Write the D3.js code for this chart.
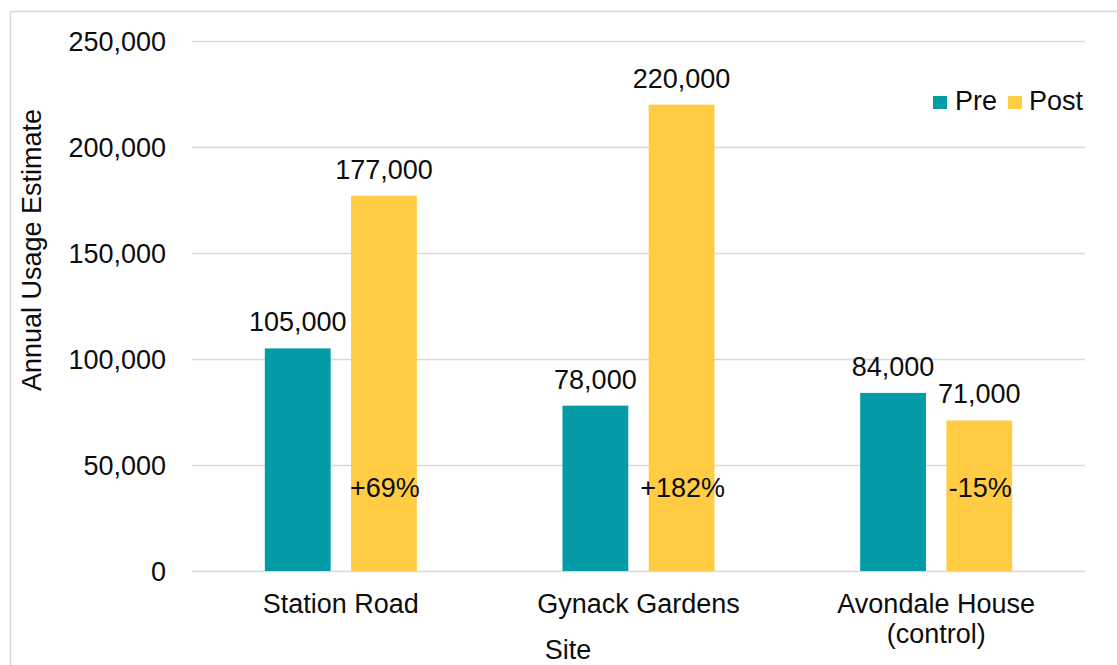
<!DOCTYPE html>
<html>
<head>
<meta charset="utf-8">
<script src="https://cdn.jsdelivr.net/npm/d3@7/dist/d3.min.js"></script>
<style>
  html, body { margin: 0; padding: 0; background: #fff; }
  svg { display: block; }
  text { font-family: "Liberation Sans", Arial, sans-serif; fill: #0d0d0d; }
</style>
</head>
<body>
<svg id="chart" width="1117" height="665"></svg>
<script>
// Annual usage estimates per site, before and after
const sites = ["Station Road", "Gynack Gardens", "Avondale House (control)"];
const siteLines = [["Station Road"], ["Gynack Gardens"], ["Avondale House", "(control)"]];
const series = ["Pre", "Post"];
const preValues = [105000, 78000, 84000];
const postValues = [177000, 220000, 71000];
const changeLabels = ["+69%", "+182%", "-15%"];
const yTicks = [0, 50000, 100000, 150000, 200000, 250000];
const colors = ["#039ba6", "#ffcc44"];

const W = 1117, H = 665;
const FS = "27px";
const margin = { left: 192, right: 32, top: 41, bottom: 94 };
const svg = d3.select("#chart");

// outer frame
svg.append("rect")
  .attr("x", 10.5).attr("y", 11.5)
  .attr("width", W + 10).attr("height", H + 10)
  .attr("fill", "none").attr("stroke", "#d9d9d9").attr("stroke-width", 1.5);

const x0 = d3.scaleBand().domain(sites)
  .range([margin.left, W - margin.right]).paddingInner(0).paddingOuter(0);
const inner = 152 / x0.bandwidth();
const x1 = d3.scaleBand().domain(series)
  .range([x0.bandwidth() * (1 - inner) / 2, x0.bandwidth() * (1 + inner) / 2])
  .paddingInner(18 / 152 * 2).paddingOuter(0);
const y = d3.scaleLinear().domain([0, 250000]).range([H - margin.bottom, margin.top]);

// gridlines and tick labels
const yAxis = d3.axisLeft(y).tickValues(yTicks)
  .tickSize(-(W - margin.left - margin.right))
  .tickFormat(d3.format(","));
const gy = svg.append("g").attr("transform", `translate(${margin.left},0)`).call(yAxis);
gy.select(".domain").remove();
gy.selectAll(".tick line").attr("stroke", "#d9d9d9").attr("stroke-width", 1.5);
gy.selectAll(".tick text")
  .attr("x", -26).attr("dy", "0.35em")
  .style("font-size", FS).style("font-family", "'Liberation Sans', Arial, sans-serif")
  .attr("fill", "#0d0d0d");

// bars
const data = sites.map((s, i) => ({ site: s, values: [
  { key: "Pre", value: preValues[i] },
  { key: "Post", value: postValues[i] }
]}));

const groups = svg.append("g").selectAll("g").data(data).join("g")
  .attr("transform", d => `translate(${x0(d.site)},0)`);

groups.selectAll("rect").data(d => d.values).join("rect")
  .attr("x", d => x1(d.key))
  .attr("y", d => y(d.value))
  .attr("width", x1.bandwidth())
  .attr("height", d => y(0) - y(d.value))
  .attr("fill", (d, i) => colors[i]);

// value labels above bars
groups.selectAll("text.val").data(d => d.values).join("text")
  .attr("class", "val")
  .attr("x", d => x1(d.key) + x1.bandwidth() / 2)
  .attr("y", d => y(d.value) - 17)
  .attr("text-anchor", "middle")
  .style("font-size", FS)
  .text(d => d3.format(",")(d.value));

// percentage change labels on the Post bars
groups.append("text")
  .attr("x", x1("Post") + x1.bandwidth() / 2 + 1)
  .attr("y", y(0) - 74)
  .attr("text-anchor", "middle")
  .style("font-size", FS)
  .text((d, i) => changeLabels[i]);

// category labels
sites.forEach((s, i) => {
  const t = svg.append("text")
    .attr("x", x0(s) + x0.bandwidth() / 2)
    .attr("y", 613)
    .attr("text-anchor", "middle")
    .style("font-size", FS);
  siteLines[i].forEach((line, j) => {
    t.append("tspan").attr("x", x0(s) + x0.bandwidth() / 2)
      .attr("dy", j === 0 ? 0 : 30).text(line);
  });
});

// axis titles
svg.append("text")
  .attr("x", 568).attr("y", 659)
  .attr("text-anchor", "middle")
  .style("font-size", FS)
  .text("Site");

svg.append("text")
  .attr("transform", "translate(41,250) rotate(-90)")
  .attr("text-anchor", "middle")
  .style("font-size", FS)
  .text("Annual Usage Estimate");

// legend
const legendItems = [
  { label: "Pre", sx: 933, tx: 955 },
  { label: "Post", sx: 1008, tx: 1029 }
];
legendItems.forEach((d, i) => {
  svg.append("rect").attr("x", d.sx).attr("y", 96)
    .attr("width", 14).attr("height", 13).attr("fill", colors[i]);
  svg.append("text").attr("x", d.tx).attr("y", 110)
    .style("font-size", FS).text(d.label);
});
</script>
</body>
</html>
